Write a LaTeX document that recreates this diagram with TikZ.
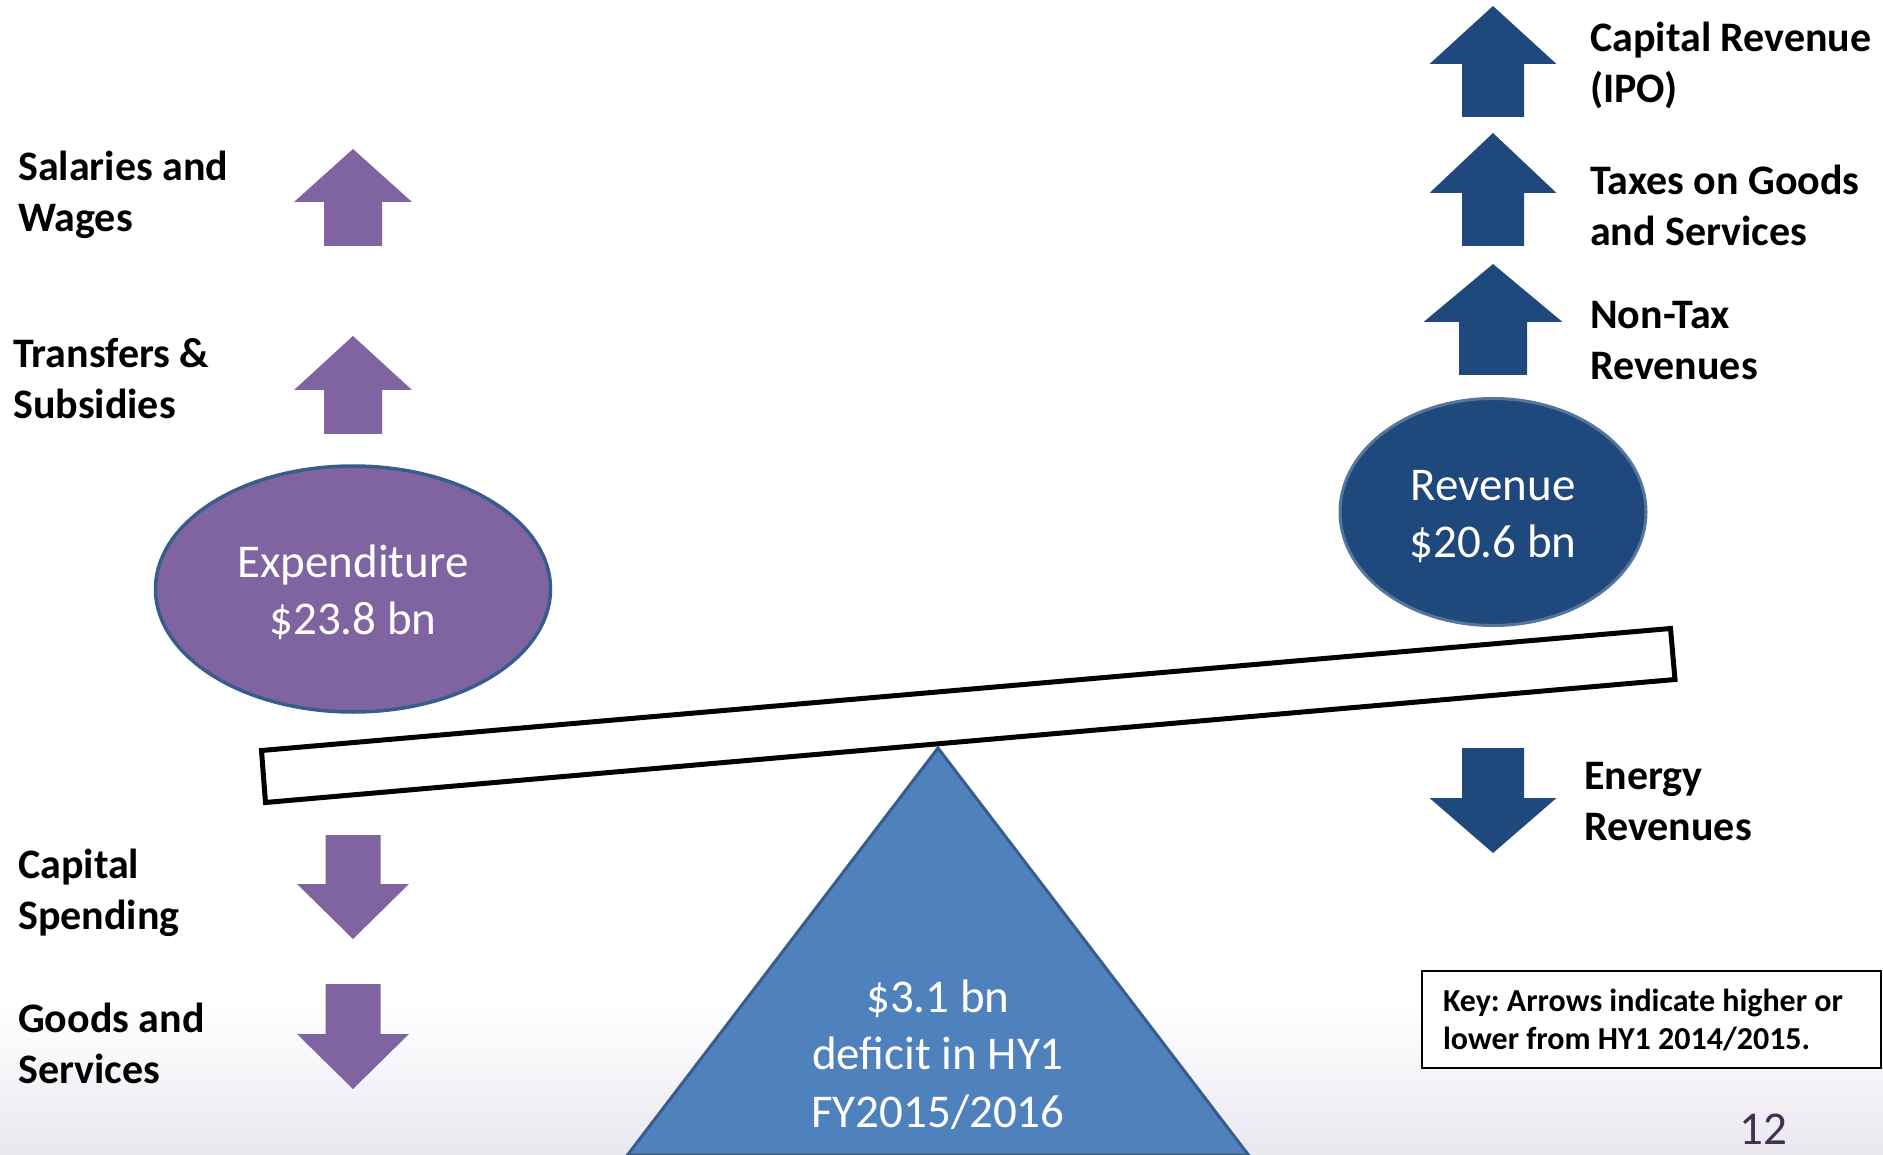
\documentclass[tikz,border=0pt]{standalone}
\usepackage{fontspec}
\setmainfont{Carlito}
\usetikzlibrary{shapes.geometric}
\definecolor{expurple}{HTML}{8064A2}
\definecolor{revblue}{HTML}{1F497D}
\definecolor{triblue}{HTML}{4F81BD}
\definecolor{edgeblue}{HTML}{385D8A}
\definecolor{bglav}{RGB}{234,231,239}
\definecolor{pagenum}{HTML}{3F3151}
\frenchspacing
% #1 centre x, #2 tip y, #3 head half width, #4 head base y, #5 shaft half width, #6 shaft end y, #7 colour
\newcommand\blockarrow[7]{%
  \fill[#7] (#1,#2) -- (#1+#3,#4) -- (#1+#5,#4) -- (#1+#5,#6) -- (#1-#5,#6) -- (#1-#5,#4) -- (#1-#3,#4) -- cycle;}
\newcommand\toprule{\rule{0pt}{42pt}}
\newcommand\botrule{\rule[-8pt]{0pt}{8pt}}
\tikzset{
  lbl/.style={font=\fontsize{42}{51}\selectfont\bfseries, align=left, anchor=north west, inner sep=0pt},
  bubble/.style={ellipse, inner sep=0pt, text=white, align=center, font=\fontsize{47}{57}\selectfont},
  keybox/.style={draw=black, line width=2pt, fill=white, inner xsep=21pt, inner ysep=0pt, align=flush left,
    font=\fontsize{32}{38}\selectfont\bfseries},
}
\begin{document}
\begin{tikzpicture}[x=1pt,y=-1pt]
\useasboundingbox (0,0) rectangle (1883,1155);
\shade[top color=white,bottom color=bglav] (0,1005) rectangle (1883,1155);

% fulcrum
\draw[fill=triblue, draw=edgeblue, line width=3pt, line join=miter] (938,748) -- (1248.5,1155) -- (627.5,1155) -- cycle;
\node (deficit) [font=\fontsize{47}{57.5}\selectfont, text=white, align=center, anchor=north, inner sep=0pt]
  at (938,972) {\strut\$3.1 bn\\deficit in HY1\\FY2015/2016};

% beam
\draw[line width=5pt, fill=white, line join=miter] (261.5,750.5) -- (265.5,802.5) -- (1675,679.5) -- (1670.5,628.5) -- cycle;

% weights
\node (exp) [bubble, fill=expurple, draw=edgeblue, line width=3.5pt, minimum width=395pt, minimum height=246pt]
  at (353,589) {\toprule Expenditure\\\$23.8 bn\botrule};
\node (rev) [bubble, fill=revblue, draw=edgeblue!85!white, line width=3pt, minimum width=306pt, minimum height=227pt]
  at (1493,512) {\toprule Revenue\\\$20.6 bn\botrule};

% expenditure arrows
\blockarrow{353}{149}{59}{202}{29}{246}{expurple}
\blockarrow{353}{336}{59}{390}{29}{434}{expurple}
\blockarrow{353}{939}{56}{884}{27.5}{835}{expurple}
\blockarrow{353}{1089}{56}{1034}{27.5}{984}{expurple}

% revenue arrows
\blockarrow{1493}{6}{63.5}{64}{31}{117}{revblue}
\blockarrow{1493}{133}{63.5}{193}{31}{246}{revblue}
\blockarrow{1493}{264}{69.5}{322}{34}{375}{revblue}
\blockarrow{1493}{853}{63.5}{798}{31}{748}{revblue}

% labels
\node (sal) [lbl] at (18,144.3) {\strut Salaries and\\Wages};
\node (tra) [lbl] at (13,331.3) {\strut Transfers \&\\Subsidies};
\node (cap) [lbl] at (18,842.3) {\strut Capital\\Spending};
\node (gds) [lbl] at (18,996.3) {\strut Goods and\\Services};
\node (ipo) [lbl] at (1590,15.3) {\strut Capital Revenue\\(IPO)};
\node (tax) [lbl] at (1590,158.3) {\strut Taxes on Goods\\and Services};
\node (ntx) [lbl] at (1590,292.3) {\strut Non-Tax\\Revenues};
\node (ene) [lbl] at (1584,753.3) {\strut Energy\\Revenues};

% key
\node (key) [keybox, text width=417pt, minimum height=97pt] at (1651.5,1019.5)
  {Key: Arrows indicate higher or\\lower from HY1 2014/2015.};

% page number
\node (pg) [font=\fontsize{47}{56}\selectfont, text=pagenum, anchor=base west, inner sep=0pt] at (1739,1144) {12};
\end{tikzpicture}
\end{document}
